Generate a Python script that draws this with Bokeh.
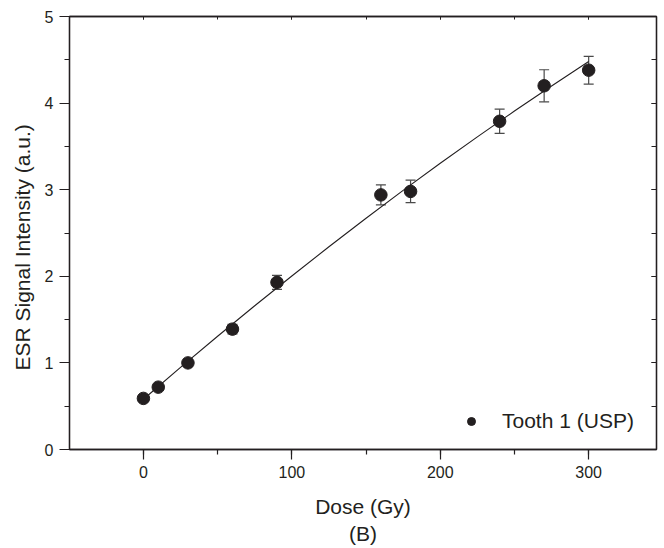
from bokeh.plotting import figure
from bokeh.models import (ColumnDataSource, Whisker, TeeHead, LinearAxis, Legend, LegendItem,
                          SingleIntervalTicker, Range1d, Title)
from bokeh.embed import file_html
from bokeh.resources import INLINE

# Data
dose = [0, 10, 30, 60, 90, 160, 180, 240, 270, 300]
signal = [0.59, 0.72, 1.00, 1.39, 1.93, 2.94, 2.98, 3.79, 4.20, 4.38]
error = [0.03, 0.03, 0.04, 0.055, 0.08, 0.115, 0.13, 0.14, 0.185, 0.16]

# fitted curve
fit_dose = [0, 25, 50, 75, 100, 125, 150, 175, 200, 225, 250, 275, 300]
fit_signal = [0.58, 0.948, 1.308, 1.660, 2.004, 2.341, 2.670, 2.992, 3.305, 3.610, 3.908, 4.198, 4.48]

series_name = "Tooth 1 (USP)"
x_label = "Dose (Gy)\n(B)"
y_label = "ESR Signal Intensity (a.u.)"

INK = "#231f20"
FONT = "Liberation Sans"

src = ColumnDataSource(dict(
    x=dose, y=signal,
    upper=[s + e for s, e in zip(signal, error)],
    lower=[s - e for s, e in zip(signal, error)],
))

p = figure(width=664, height=548, output_backend="svg", toolbar_location=None,
           x_range=Range1d(-49.8, 345.7), y_range=Range1d(0, 5),
           min_border_left=69, min_border_right=8, min_border_top=16, min_border_bottom=96,
           x_axis_label=x_label)
p.xgrid.visible = False
p.ygrid.visible = False
p.outline_line_color = INK
p.outline_line_width = 1.3
p.background_fill_color = "white"
p.border_fill_color = "white"

p.xaxis.ticker = SingleIntervalTicker(interval=100, num_minor_ticks=2)
p.yaxis.ticker = SingleIntervalTicker(interval=1, num_minor_ticks=2)

for ax in (p.xaxis[0], p.yaxis[0]):
    ax.axis_line_color = INK
    ax.axis_line_width = 1.3
    ax.major_tick_line_color = INK
    ax.minor_tick_line_color = INK
    ax.major_tick_line_width = 1.2
    ax.minor_tick_line_width = 1.2
    ax.major_tick_out = 10
    ax.major_tick_in = 0
    ax.minor_tick_out = 5
    ax.minor_tick_in = 0
    ax.major_label_text_font = FONT
    ax.major_label_text_font_size = "16px"
    ax.major_label_text_color = INK
    ax.axis_label_text_font = FONT
    ax.axis_label_text_font_size = "21px"
    ax.axis_label_text_font_style = "normal"
    ax.axis_label_text_color = INK
    ax.major_label_standoff = 6

p.xaxis.axis_label_standoff = 14

# y-axis title as a side title (sits a little below the frame centre, as in the original)
p.add_layout(Title(text=y_label, align="left", offset=79, standoff=15,
                   text_font=FONT, text_font_size="21px", text_font_style="normal",
                   text_color=INK), "left")

# mirrored axes: top and right, ticks inward, no labels
top = LinearAxis(ticker=SingleIntervalTicker(interval=100, num_minor_ticks=2))
right = LinearAxis(ticker=SingleIntervalTicker(interval=1, num_minor_ticks=2))
for ax, tin in ((top, 3), (right, 5)):
    ax.axis_line_color = INK
    ax.axis_line_width = 1.3
    ax.major_tick_line_color = INK
    ax.minor_tick_line_color = INK
    ax.major_tick_out = 0
    ax.minor_tick_out = 0
    ax.major_tick_in = tin
    ax.minor_tick_in = tin
    ax.major_label_text_font_size = "0px"
    ax.major_label_text_color = None
    ax.major_label_standoff = 0
p.add_layout(top, "above")
p.add_layout(right, "right")

# error bars
wh = Whisker(source=src, base="x", upper="upper", lower="lower",
             line_color="#4a4a4a", line_width=1.2, level="underlay",
             upper_head=TeeHead(size=10, line_color="#4a4a4a", line_width=1.2),
             lower_head=TeeHead(size=10, line_color="#4a4a4a", line_width=1.2))
p.add_layout(wh)

# fit line
p.line(fit_dose, fit_signal, line_color=INK, line_width=1.1)

# points
p.scatter("x", "y", source=src, size=12.5, fill_color=INK, line_color=INK)

# legend (smaller marker); proxy renderer with a non-drawn NaN point
nan = float("nan")
leg_r = p.scatter([nan], [nan], size=10, fill_color=INK, line_color=INK)
legend = Legend(items=[LegendItem(label=series_name, renderers=[leg_r])],
                location=(392, 16), border_line_color=None, background_fill_alpha=0,
                label_text_font=FONT, label_text_font_size="21px", label_text_color=INK,
                glyph_width=20, glyph_height=20, label_standoff=21, padding=10,
                label_height=20, spacing=0)
p.add_layout(legend)

open("out.html", "w").write(file_html(p, INLINE))
